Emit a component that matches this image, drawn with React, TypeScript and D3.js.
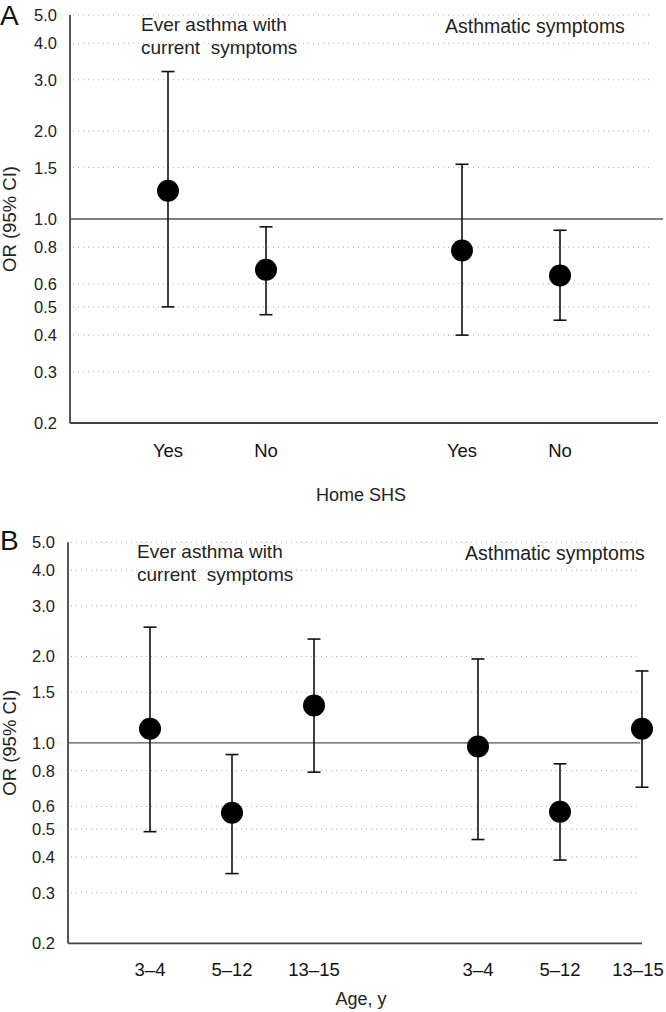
import React from "react";
import * as d3 from "d3";

// ---------- data ----------
const yTickValues = [0.2, 0.3, 0.4, 0.5, 0.6, 0.8, 1.0, 1.5, 2.0, 3.0, 4.0, 5.0];
const gridValues = [0.3, 0.4, 0.5, 0.6, 0.8, 1.5, 2.0, 3.0, 4.0, 5.0];

const homeCategories = ["Yes", "No", "Yes", "No"];
const homeSlots = [1, 2, 4, 5];
const homeOR = [1.25, 0.67, 0.78, 0.64];
const homeLower = [0.5, 0.47, 0.4, 0.45];
const homeUpper = [3.2, 0.94, 1.54, 0.915];

const ageCategories = ["3–4", "5–12", "13–15", "3–4", "5–12", "13–15"];
const ageSlots = [1, 2, 3, 5, 6, 7];
const ageOR = [1.12, 0.57, 1.35, 0.97, 0.575, 1.12];
const ageLower = [0.49, 0.35, 0.79, 0.46, 0.39, 0.7];
const ageUpper = [2.53, 0.91, 2.3, 1.96, 0.845, 1.78];

const groupLabel1 = ["Ever asthma with", "current  symptoms"];
const groupLabel2 = "Asthmatic symptoms";

const FONT = "'Liberation Sans', Arial, Helvetica, sans-serif";

type PanelProps = {
  letter: string;
  letterY: number;
  x0: number;
  x1: number;
  slotMax: number;
  yTop: number;
  yBottom: number;
  categories: string[];
  slots: number[];
  or: number[];
  lower: number[];
  upper: number[];
  xTitle: string;
  xTitleY: number;
  catLabelY: number;
  g1x: number;
  g1y: number;
  g2x: number;
  g2y: number;
  gridEnd: number;
  refEnd: number;
};

function Panel(p: PanelProps) {
  const x = d3.scaleLinear().domain([0, p.slotMax]).range([p.x0, p.x1]);
  const y = d3.scaleLog().domain([0.2, 5]).range([p.yBottom, p.yTop]);
  const capW = 6.5;
  const r = 11;
  return (
    <g fontFamily={FONT}>
      <text x={0} y={p.letterY} fontSize={28} fill="#111">
        {p.letter}
      </text>
      {/* grid lines */}
      {gridValues.map((v) => (
        <line
          key={"g" + v}
          x1={p.x0 + 3}
          x2={p.gridEnd}
          y1={y(v)}
          y2={y(v)}
          stroke="#aaa"
          strokeWidth={1}
          strokeDasharray="1 4"
        />
      ))}
      {/* reference line at 1.0 */}
      <line x1={p.x0} x2={p.refEnd} y1={y(1)} y2={y(1)} stroke="#555" strokeWidth={1.3} />
      {/* axes */}
      <line x1={p.x0} x2={p.x0} y1={p.yTop} y2={p.yBottom} stroke="#444" strokeWidth={1.8} />
      <line x1={p.x0} x2={p.x1} y1={p.yBottom} y2={p.yBottom} stroke="#444" strokeWidth={1.8} />
      {/* y tick labels */}
      {yTickValues.map((v) => (
        <text
          key={"t" + v}
          x={p.x0 - 13}
          y={y(v)}
          dy="0.36em"
          textAnchor="end"
          fontSize={16.5}
          fill="#222"
        >
          {v.toFixed(1)}
        </text>
      ))}
      <text
        transform={`translate(16,${y(1)}) rotate(-90)`}
        textAnchor="middle"
        fontSize={18.5}
        fill="#222"
      >
        OR (95% CI)
      </text>
      {/* category labels */}
      {p.categories.map((c, i) => (
        <text
          key={"c" + i}
          x={Math.min(x(p.slots[i]), 638)}
          y={p.catLabelY}
          textAnchor="middle"
          fontSize={18.5}
          fill="#111"
        >
          {c}
        </text>
      ))}
      <text x={361} y={p.xTitleY} textAnchor="middle" fontSize={18} fill="#222">
        {p.xTitle}
      </text>
      {/* group labels */}
      <text x={p.g1x} y={p.g1y} fontSize={19} fill="#222" style={{ whiteSpace: "pre" }}>
        <tspan x={p.g1x}>{groupLabel1[0]}</tspan>
        <tspan x={p.g1x} dy={23}>
          {groupLabel1[1]}
        </tspan>
      </text>
      <text x={p.g2x} y={p.g2y} fontSize={19.5} fill="#222">
        {groupLabel2}
      </text>
      {/* error bars and points */}
      {p.or.map((v, i) => {
        const cx = x(p.slots[i]);
        return (
          <g key={"p" + i}>
            <line x1={cx} x2={cx} y1={y(p.upper[i])} y2={y(p.lower[i])} stroke="#111" strokeWidth={1.6} />
            <line x1={cx - capW} x2={cx + capW} y1={y(p.upper[i])} y2={y(p.upper[i])} stroke="#111" strokeWidth={1.6} />
            <line x1={cx - capW} x2={cx + capW} y1={y(p.lower[i])} y2={y(p.lower[i])} stroke="#111" strokeWidth={1.6} />
            <circle cx={cx} cy={y(v)} r={r} fill="#000" />
          </g>
        );
      })}
    </g>
  );
}

export default function App() {
  return (
    <div style={{ position: "absolute", left: 0, top: 0, background: "#fff" }}>
      <svg width={666} height={1012} style={{ display: "block" }}>
        <rect width={666} height={1012} fill="#fff" />
        <Panel
          letter="A"
          letterY={25}
          x0={70}
          x1={658}
          slotMax={6}
          yTop={15}
          yBottom={423}
          categories={homeCategories}
          slots={homeSlots}
          or={homeOR}
          lower={homeLower}
          upper={homeUpper}
          xTitle="Home SHS"
          xTitleY={501}
          catLabelY={457}
          g1x={141}
          g1y={30.5}
          g2x={445}
          g2y={32.5}
          gridEnd={652}
          refEnd={663}
        />
        <Panel
          letter="B"
          letterY={550}
          x0={68}
          x1={642}
          slotMax={7}
          yTop={542.3}
          yBottom={943.3}
          categories={ageCategories}
          slots={ageSlots}
          or={ageOR}
          lower={ageLower}
          upper={ageUpper}
          xTitle="Age, y"
          xTitleY={1005}
          catLabelY={976}
          g1x={137}
          g1y={558}
          g2x={465}
          g2y={560}
          gridEnd={638}
          refEnd={640}
        />
      </svg>
    </div>
  );
}
